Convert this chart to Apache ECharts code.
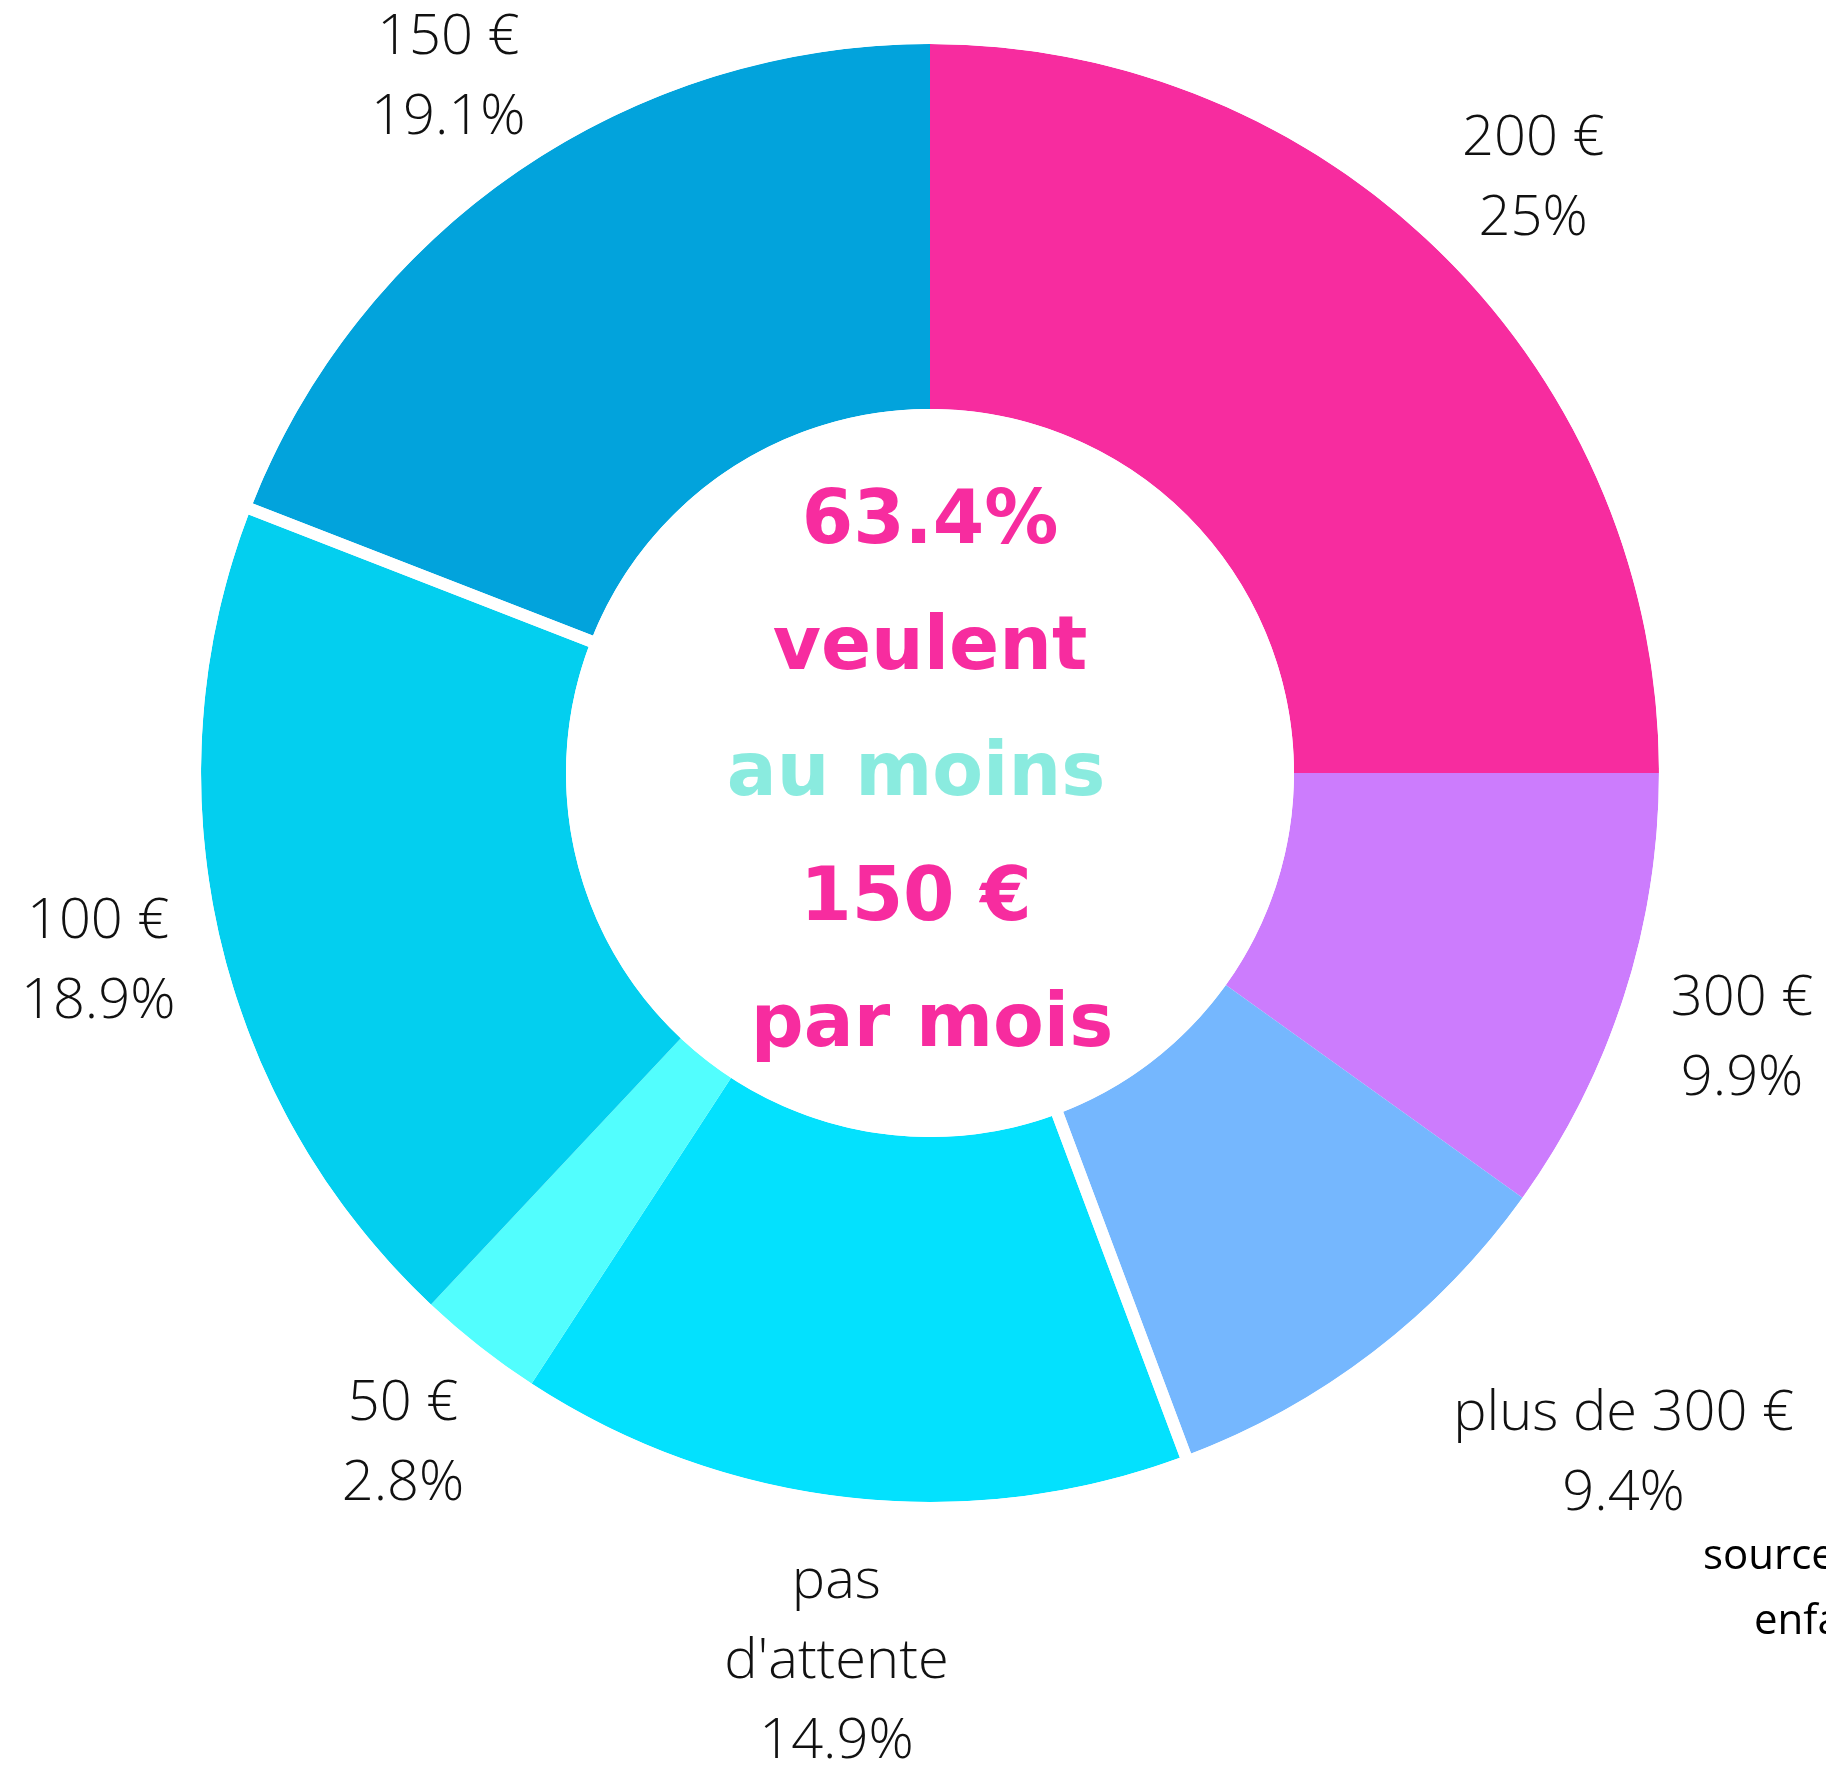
<!DOCTYPE html>
<html>
<head>
<meta charset="utf-8">
<script src="https://cdn.jsdelivr.net/npm/echarts@6/dist/echarts.min.js"></script>
<style>
  html, body { margin: 0; padding: 0; background: #fff; }
  #pie { width: 1826px; height: 1766px; }
</style>
</head>
<body>
<div id="pie"></div>
<script>
// données du camembert (sens horaire depuis midi)
var categories = ['200 €', '300 €', 'plus de 300 €', "pas\nd'attente", '50 €', '100 €', '150 €'];
var values = [25, 9.9, 9.4, 14.9, 2.8, 18.9, 19.1];
var colors = ['#F72C9F', '#CC7CFD', '#75B7FE', '#03E1FE', '#52FEFE', '#03CFEF', '#02A3DC'];
// tranches "au moins 150 €" (séparées par un trait blanc)
var atLeast150 = ['150 €', '200 €', '300 €', 'plus de 300 €'];
var centerLines = ['63.4%', 'veulent', 'au moins', '150 €', 'par mois'];
var sourceLines = ['source : sondage', 'enfants'];

var cx = 930, cy = 773;

var mChart = echarts.init(document.getElementById('pie'));

var total = 0;
values.forEach(function (v) { total += v; });

var ringData = [];
var labelData = [];
// petits ajustements des étiquettes : décalage vers le bas, décalage à droite (x2)
var labelShift = { 0: [9, 0], 1: [5, 0], 2: [4, 350], 3: [41, 0], 6: [9, 0] };
values.forEach(function (v, i) {
  ringData.push({ name: categories[i], value: v, itemStyle: { color: colors[i] } });
  var lab = { name: categories[i], value: v };
  var s = labelShift[i] || [0, 0];
  var txt = categories[i] + '\n' + v + '%';
  var rich = {};
  if (s[0]) {
    txt = '{sp| }\n' + txt;
    rich.sp = { fontSize: 1, lineHeight: s[0] * 2 };
  }
  lab.label = { formatter: txt, rich: rich };
  if (s[1]) lab.label.padding = [0, 0, 0, s[1]];
  labelData.push(lab);
});

// groupe >= 150 € : commence à la tranche 150 € et tourne dans le sens horaire
var groupSum = 0, before = 0;
categories.forEach(function (c, i) {
  if (atLeast150.indexOf(c) >= 0) groupSum += values[i];
});
for (var i = 0; i < categories.length; i++) {
  if (categories[i] === '150 €') break;
  before += values[i];
}
var groupStart = 90 - 360 * before / total;

var centerColors = ['#F72C9F', '#F72C9F', '#8AEBDF', '#F72C9F', '#F72C9F'];
var centerX = [930, 930, 916, 916, 932];
var graphics = [];
centerLines.forEach(function (t, i) {
  graphics.push({
    type: 'text', x: centerX[i], y: 524 + i * 125.7, silent: true, z: 100,
    style: {
      text: t, fill: centerColors[i], align: 'center', verticalAlign: 'middle',
      fontSize: 74, fontWeight: 'bold', fontFamily: '"DejaVu Sans", sans-serif'
    }
  });
});
graphics.push({
  type: 'text', x: 1703, y: 1557,
  style: { text: sourceLines[0], fill: '#000', verticalAlign: 'middle', fontSize: 42, fontFamily: '"Open Sans", sans-serif' }
});
graphics.push({
  type: 'text', x: 1754, y: 1622,
  style: { text: sourceLines[1], fill: '#000', verticalAlign: 'middle', fontSize: 42, fontFamily: '"Open Sans", sans-serif' }
});

mChart.setOption({
  animation: false,
  backgroundColor: '#fff',
  graphic: graphics,
  series: [
    {
      type: 'pie',
      center: [cx, cy],
      radius: [364, 729],
      startAngle: 90,
      clockwise: true,
      label: { show: false },
      labelLine: { show: false },
      emphasis: { disabled: true },
      data: ringData
    },
    {
      // contour blanc autour du groupe "au moins 150 €"
      type: 'pie',
      z: 3,
      center: [cx, cy],
      radius: [358, 735],
      startAngle: groupStart,
      clockwise: true,
      silent: true,
      label: { show: false },
      labelLine: { show: false },
      itemStyle: { color: 'rgba(0,0,0,0)', borderColor: '#fff', borderWidth: 12 },
      emphasis: { disabled: true },
      data: [{ value: groupSum }, { value: total - groupSum }]
    },
    {
      // anneau invisible qui porte les étiquettes
      type: 'pie',
      center: [cx, cy],
      radius: [820, 880],
      startAngle: 90,
      clockwise: true,
      silent: true,
      itemStyle: { color: 'rgba(0,0,0,0)' },
      label: {
        show: true,
        position: 'inside',
        rotate: 0,
        color: '#111',
        fontSize: 56,
        fontWeight: 300,
        fontFamily: '"Open Sans", sans-serif',
        lineHeight: 80,
        align: 'center'
      },
      labelLine: { show: false },
      emphasis: { disabled: true },
      data: labelData
    }
  ]
});
</script>
</body>
</html>
